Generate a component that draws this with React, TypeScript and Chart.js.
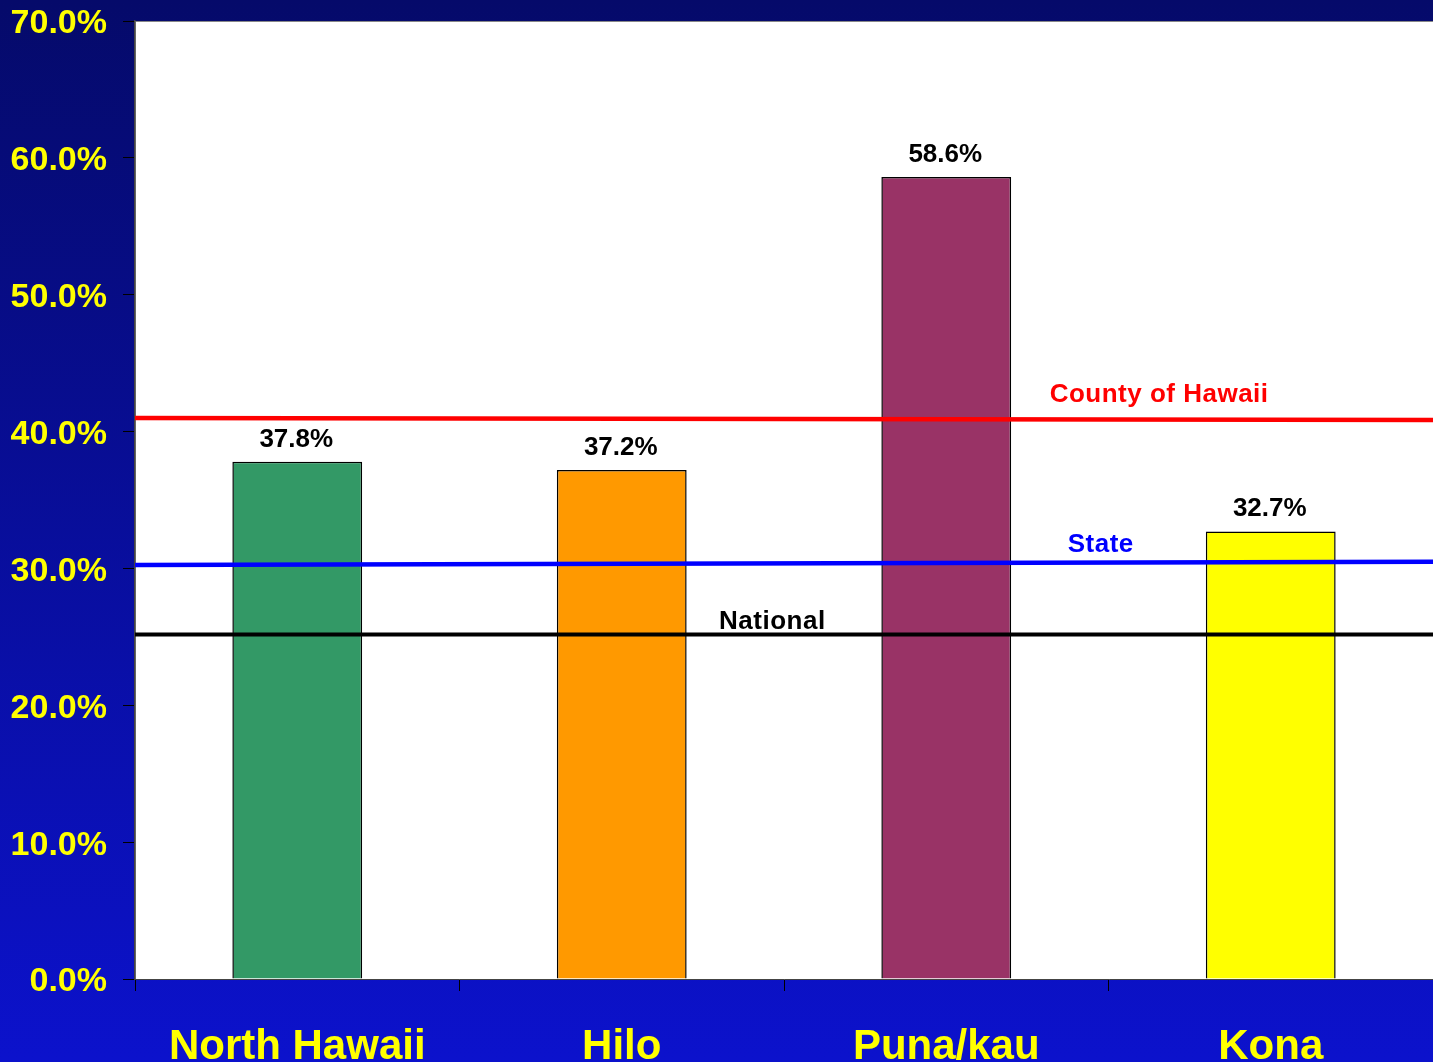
import { useEffect, useRef } from "react";
import { Chart, registerables } from "chart.js";

Chart.register(...registerables);

const categories = ["North Hawaii", "Hilo", "Puna/kau", "Kona"];
const values = [37.8, 37.2, 58.6, 32.7];
const barColors = ["#339966", "#FF9900", "#993366", "#FFFF00"];
const yTicks = [0, 10, 20, 30, 40, 50, 60, 70];

const refNames = ["County of Hawaii", "State", "National"];
const refStart = [41.0, 30.25, 25.17];
const refEnd = [40.85, 30.48, 25.17];
const refColors = ["#FF0000", "#0000FF", "#000000"];
const refWidths = [4.5, 4.5, 4];
// label anchor (fraction of plot width) and pixel lift above the line
const refLabelX = [0.789, 0.744, 0.491];
const refLabelLift = [18, 11, 5.5];

const FONT = "'Liberation Sans', Arial, Helvetica, sans-serif";

export default function App() {
  const ref = useRef<HTMLCanvasElement | null>(null);

  useEffect(() => {
    const canvas = ref.current!;
    const bgPlugin = {
      id: "bg",
      beforeDraw(chart: any) {
        const { ctx, width, height, chartArea } = chart;
        ctx.save();
        const g = ctx.createLinearGradient(0, 0, 0, height);
        g.addColorStop(0, "#050a6a");
        g.addColorStop(1, "#0c12cc");
        ctx.fillStyle = g;
        ctx.fillRect(0, 0, width, height);
        ctx.fillStyle = "#ffffff";
        ctx.fillRect(chartArea.left, chartArea.top, chartArea.right - chartArea.left, chartArea.bottom - chartArea.top);
        ctx.strokeStyle = "#888888";
        ctx.lineWidth = 1;
        ctx.strokeRect(chartArea.left + 0.5, chartArea.top + 0.5, chartArea.right - chartArea.left, chartArea.bottom - chartArea.top);
        ctx.restore();
      },
    };
    const overlayPlugin = {
      id: "overlay",
      afterDatasetsDraw(chart: any) {
        const { ctx, chartArea } = chart;
        const y = chart.scales.y;
        ctx.save();
        // reference lines
        refNames.forEach((_, i) => {
          ctx.strokeStyle = refColors[i];
          ctx.lineWidth = refWidths[i];
          ctx.beginPath();
          ctx.moveTo(chartArea.left, y.getPixelForValue(refStart[i]));
          ctx.lineTo(chartArea.right, y.getPixelForValue(refEnd[i]));
          ctx.stroke();
        });
        ctx.font = `bold 26px ${FONT}`;
        ctx.textAlign = "center";
        ctx.textBaseline = "alphabetic";
        // bar value labels
        const meta = chart.getDatasetMeta(0);
        meta.data.forEach((bar: any, i: number) => {
          ctx.fillStyle = "#000000";
          ctx.fillText(values[i].toFixed(1) + "%", bar.x - 1, bar.y - 15);
        });
        // reference line labels
        (ctx as any).letterSpacing = "0.5px";
        refNames.forEach((name, i) => {
          const frac = refLabelX[i];
          const x = chartArea.left + frac * (chartArea.right - chartArea.left);
          const v = refStart[i] + (refEnd[i] - refStart[i]) * frac;
          ctx.fillStyle = refColors[i];
          ctx.fillText(name, x, y.getPixelForValue(v) - refLabelLift[i]);
        });
        ctx.restore();
      },
    };

    const chart = new Chart(canvas, {
      type: "bar",
      data: {
        labels: categories,
        datasets: [
          {
            label: "Share",
            data: values,
            backgroundColor: barColors,
            borderColor: "#000000",
            borderWidth: 1.5,
            barPercentage: 0.4,
            categoryPercentage: 1,
          },
        ],
      },
      options: {
        responsive: false,
        animation: false,
        layout: { padding: { top: 21, right: 0, left: 0, bottom: 0 } },
        plugins: { legend: { display: false }, tooltip: { enabled: false } },
        scales: {
          x: {
            type: "category",
            offset: true,
            grid: { offset: true, drawOnChartArea: false, drawTicks: true, tickLength: 12, color: "#000000" },
            border: { display: true, color: "#444444", width: 1 },
            ticks: {
              color: "#FFFF00",
              padding: 31,
              maxRotation: 0,
              autoSkip: false,
              font: { family: FONT, size: 42, weight: "bold" },
            },
            afterFit(scale: any) {
              scale.height = 83;
              scale.paddingLeft = 0;
              scale.paddingRight = 0;
            },
          },
          y: {
            min: 0,
            max: 70,
            afterBuildTicks(scale: any) {
              scale.ticks = yTicks.map((v) => ({ value: v }));
            },
            grid: { drawOnChartArea: false, drawTicks: true, tickLength: 12, color: "#000000" },
            border: { display: true, color: "#444444", width: 1.5 },
            ticks: {
              color: "#FFFF00",
              padding: 16,
              labelOffset: 3,
              font: { family: FONT, size: 34, weight: "bold" },
              callback: (v: any) => Number(v).toFixed(1) + "%",
            },
            afterFit(scale: any) {
              scale.width = 135;
              scale.paddingTop = 0;
              scale.paddingBottom = 0;
            },
          },
        },
      },
      plugins: [bgPlugin, overlayPlugin],
    });
    return () => chart.destroy();
  }, []);

  return (
    <div style={{ position: "absolute", left: 0, top: 0, width: 1433, height: 1062 }}>
      <canvas ref={ref} width={1433} height={1062} style={{ display: "block" }} />
    </div>
  );
}
